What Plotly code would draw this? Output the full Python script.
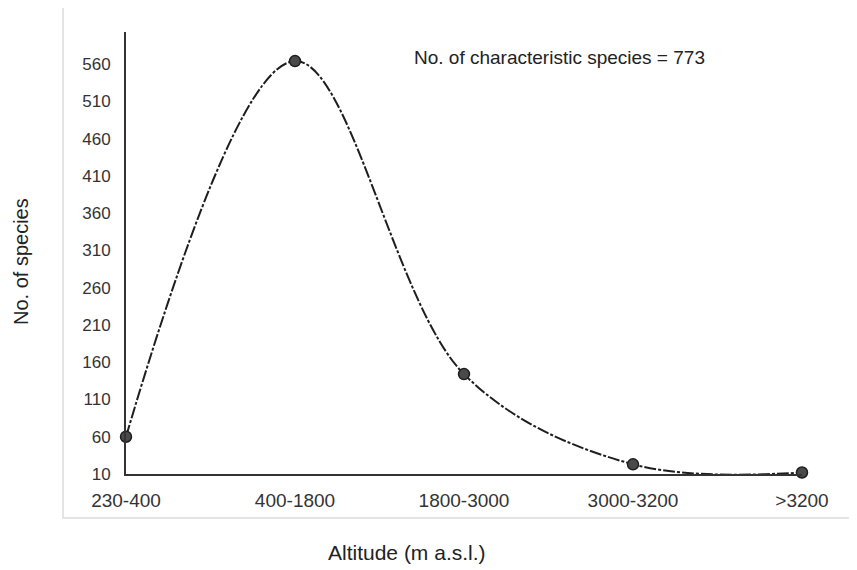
import plotly.graph_objects as go

altitudes = ["230-400", "400-1800", "1800-3000", "3000-3200", ">3200"]
species = [60, 564, 144, 23, 12]
y_ticks = list(range(10, 561, 50))

FONT = "Liberation Sans, Arial, sans-serif"

# page body has an 8px margin; plot area is placed so that on screen it spans x 126..802, y 32..474
L, T = 118, 24
PW, PH = 676, 442
W, H = 849, 562

def px(x):
    return (x - 126) / PW

def py(y):
    return (474 - y) / PH

fig = go.Figure()
fig.add_trace(go.Scatter(
    x=altitudes, y=species,
    mode="lines+markers",
    line=dict(shape="spline", smoothing=1.0, color="#1e1e1e", width=2,
              dash="12px,2px,3px,2px"),
    marker=dict(size=11, color="#4a4a4a", line=dict(color="#1e1e1e", width=1.5)),
    cliponaxis=False,
    showlegend=False,
))

fig.update_layout(
    width=W, height=H,
    margin=dict(l=L, r=W - L - PW, t=T, b=H - T - PH, autoexpand=False),
    paper_bgcolor="white", plot_bgcolor="white",
    font=dict(family=FONT, color="#222", size=15),
    xaxis=dict(
        type="category", categoryorder="array", categoryarray=altitudes,
        range=[0, 4], showgrid=False, zeroline=False,
        showline=True, linecolor="#333", linewidth=2,
        ticks="", ticklabelstandoff=8, tickfont=dict(size=19, color="#333"),
    ),
    yaxis=dict(
        range=[10, 603], showgrid=False, zeroline=False,
        showline=True, linecolor="#333", linewidth=2,
        tickvals=y_ticks, ticks="", ticklabelstandoff=10,
        tickfont=dict(size=17, color="#333"),
    ),
    shapes=[dict(type="rect", xref="paper", yref="paper",
                 x0=px(63), x1=px(856), y0=py(518), y1=py(6),
                 line=dict(color="#dcdcdc", width=1.5), layer="below")],
    annotations=[
        dict(text="No. of characteristic species = 773", xref="paper", yref="paper",
             x=px(412), y=py(57), xanchor="left", yanchor="middle",
             showarrow=False, font=dict(size=19, color="#222")),
        dict(text="No. of species", xref="paper", yref="paper",
             x=px(21), y=py(262), xanchor="center", yanchor="middle",
             textangle=-90, showarrow=False, font=dict(size=20, color="#222")),
        dict(text="Altitude (m a.s.l.)", xref="paper", yref="paper",
             x=px(407), y=py(552), xanchor="center", yanchor="middle",
             showarrow=False, font=dict(size=21, color="#222")),
    ],
)

fig.write_html("out.html")
